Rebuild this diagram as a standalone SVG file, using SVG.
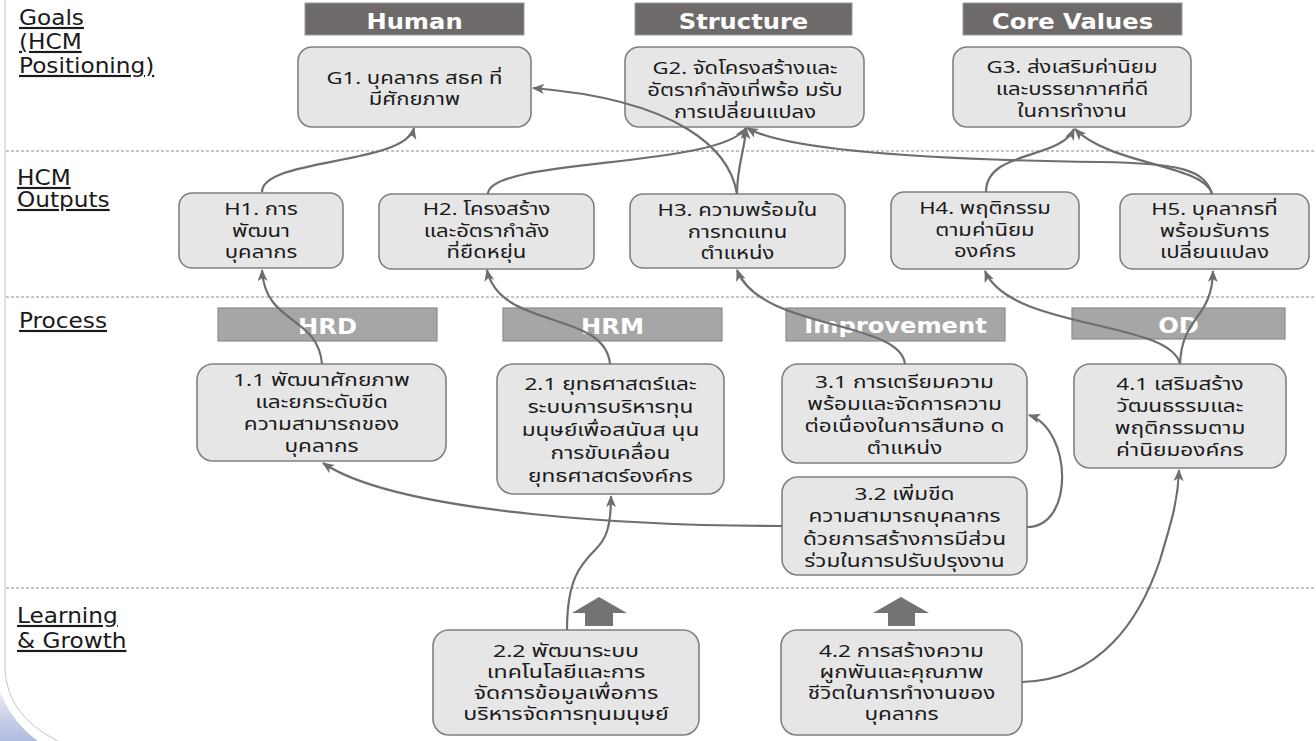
<svg xmlns="http://www.w3.org/2000/svg" width="1316" height="741" viewBox="0 0 1316 741">
<style>
.box{fill:#e6e6e6;stroke:#808080;stroke-width:1.6}
.hdr{fill:#6e6a6a;stroke:#9a9a9a;stroke-width:1}
.bar{fill:#a6a6a6;stroke:#8c8c8c;stroke-width:1.2}
.ht{font-family:"DejaVu Sans",Verdana,sans-serif;font-weight:bold;font-size:22px;fill:#ffffff;text-anchor:middle}
.t{font-family:"Noto Sans Thai","DejaVu Sans",Tahoma,sans-serif;font-size:17px;fill:#1a1a1a;text-anchor:middle}
.lbl{font-family:"DejaVu Sans",Verdana,sans-serif;font-size:21.5px;fill:#1a1a1a;text-decoration:underline}
.dash{stroke:#8a8a8a;stroke-width:1;stroke-dasharray:3 2;fill:none}
.c{fill:none;stroke:#6e6e6e;stroke-width:2.2;marker-end:url(#ah)}
.big{fill:#737373}
</style>
<defs>
<marker id="ah" markerUnits="userSpaceOnUse" markerWidth="14" markerHeight="12" refX="11" refY="5" orient="auto">
<path d="M0,0 L12,5 L0,10 L3,5 Z" fill="#6e6e6e"/>
</marker>
<linearGradient id="corner" x1="0" y1="0" x2="0" y2="1">
<stop offset="0" stop-color="#e8e8ee"/>
<stop offset="1" stop-color="#aebbe2"/>
</linearGradient>
</defs>
<rect width="1316" height="741" fill="#ffffff"/>
<g id="frame">
<path d="M0,692 C10,716 24,731 38,741 L0,741 Z" fill="url(#corner)"/>
<path d="M5,0 L5,668 C6,700 24,724 58,741" fill="none" stroke="#c4c4c4" stroke-width="1"/>
<line class="dash" x1="6" y1="151" x2="1316" y2="151"/>
<line class="dash" x1="6" y1="297" x2="1316" y2="297"/>
<line class="dash" x1="6" y1="588" x2="1316" y2="588"/>
</g>
<g id="row-labels">
<g transform="translate(19,0) scale(1.08,1)"><text class="lbl"><tspan x="0" y="25">Goals</tspan><tspan x="0" y="49">(HCM</tspan><tspan x="0" y="73">Positioning)</tspan></text></g>
<g transform="translate(17,0) scale(1.08,1)"><text class="lbl"><tspan x="0" y="185">HCM</tspan><tspan x="0" y="207">Outputs</tspan></text></g>
<g transform="translate(19,0) scale(1.08,1)"><text class="lbl" x="0" y="328">Process</text></g>
<g transform="translate(17,0) scale(1.08,1)"><text class="lbl"><tspan x="0" y="623">Learning</tspan><tspan x="0" y="648">&amp; Growth</tspan></text></g>
</g>
<g id="hdr-human"><rect class="hdr" x="305" y="3" width="219" height="32"/><text class="ht" transform="translate(414.5,0) scale(1.1,1)" x="0" y="29">Human</text></g>
<g id="hdr-structure"><rect class="hdr" x="635" y="3" width="217" height="32"/><text class="ht" transform="translate(743.5,0) scale(1.1,1)" x="0" y="29">Structure</text></g>
<g id="hdr-core"><rect class="hdr" x="963" y="3" width="219" height="32"/><text class="ht" transform="translate(1072.5,0) scale(1.1,1)" x="0" y="29">Core Values</text></g>
<g id="G1"><rect class="box" x="298" y="47" width="233" height="80" rx="14"/>
<g transform="translate(414.5,0) scale(1.3,1)"><text class="t"><tspan x="0" y="84">G1. บุคลากร สธค ที่</tspan><tspan x="0" y="105">มีศักยภาพ</tspan></text></g></g>
<g id="G2"><rect class="box" x="625" y="47" width="239" height="80" rx="14"/>
<g transform="translate(745,0) scale(1.3,1)"><text class="t"><tspan x="0" y="74">G2. จัดโครงสร้างและ</tspan><tspan x="0" y="96">อัตรากำลังเที่พร้อ มรับ</tspan><tspan x="0" y="118">การเปลี่ยนแปลง</tspan></text></g></g>
<g id="G3"><rect class="box" x="953" y="47" width="238" height="80" rx="14"/>
<g transform="translate(1072,0) scale(1.3,1)"><text class="t"><tspan x="0" y="73">G3. ส่งเสริมค่านิยม</tspan><tspan x="0" y="95">และบรรยากาศที่ดี</tspan><tspan x="0" y="117">ในการทำงาน</tspan></text></g></g>
<g id="H1"><rect class="box" x="179" y="193" width="164" height="75" rx="13"/>
<g transform="translate(261,0) scale(1.3,1)"><text class="t"><tspan x="0" y="215">H1. การ</tspan><tspan x="0" y="237">พัฒนา</tspan><tspan x="0" y="258">บุคลากร</tspan></text></g></g>
<g id="H2"><rect class="box" x="379" y="194" width="215" height="75" rx="13"/>
<g transform="translate(486.5,0) scale(1.3,1)"><text class="t"><tspan x="0" y="215">H2. โครงสร้าง</tspan><tspan x="0" y="237">และอัตรากำลัง</tspan><tspan x="0" y="258">ที่ยืดหยุ่น</tspan></text></g></g>
<g id="H3"><rect class="box" x="630" y="194" width="215" height="74" rx="13"/>
<g transform="translate(737.5,0) scale(1.3,1)"><text class="t"><tspan x="0" y="216">H3. ความพร้อมใน</tspan><tspan x="0" y="238">การทดแทน</tspan><tspan x="0" y="259">ตำแหน่ง</tspan></text></g></g>
<g id="H4"><rect class="box" x="891" y="192" width="188" height="77" rx="13"/>
<g transform="translate(985,0) scale(1.3,1)"><text class="t"><tspan x="0" y="214">H4. พฤติกรรม</tspan><tspan x="0" y="236">ตามค่านิยม</tspan><tspan x="0" y="257">องค์กร</tspan></text></g></g>
<g id="H5"><rect class="box" x="1120" y="194" width="189" height="75" rx="13"/>
<g transform="translate(1214.5,0) scale(1.3,1)"><text class="t"><tspan x="0" y="215">H5. บุคลากรที่</tspan><tspan x="0" y="237">พร้อมรับการ</tspan><tspan x="0" y="258">เปลี่ยนแปลง</tspan></text></g></g>
<g id="bar-hrd"><rect class="bar" x="218" y="308" width="219" height="33"/><text class="ht" transform="translate(327.5,0) scale(1.1,1)" x="0" y="334">HRD</text></g>
<g id="bar-hrm"><rect class="bar" x="503" y="308" width="219" height="33"/><text class="ht" transform="translate(612.5,0) scale(1.1,1)" x="0" y="334">HRM</text></g>
<g id="bar-imp"><rect class="bar" x="786" y="308" width="219" height="33"/><text class="ht" transform="translate(895.5,0) scale(1.1,1)" x="0" y="333">Improvement</text></g>
<g id="bar-od"><rect class="bar" x="1072" y="308" width="213" height="31"/><text class="ht" transform="translate(1178.5,0) scale(1.1,1)" x="0" y="333">OD</text></g>
<g id="P11"><rect class="box" x="197" y="364" width="249" height="97" rx="16"/>
<g transform="translate(321.5,0) scale(1.33,1)"><text class="t"><tspan x="0" y="386">1.1 พัฒนาศักยภาพ</tspan><tspan x="0" y="408">และยกระดับขีด</tspan><tspan x="0" y="430">ความสามารถของ</tspan><tspan x="0" y="452">บุคลากร</tspan></text></g></g>
<g id="P21"><rect class="box" x="497" y="364" width="227" height="130" rx="16"/>
<g transform="translate(610.5,0) scale(1.33,1)"><text class="t"><tspan x="0" y="390">2.1 ยุทธศาสตร์และ</tspan><tspan x="0" y="413">ระบบการบริหารทุน</tspan><tspan x="0" y="436">มนุษย์เพื่อสนับส นุน</tspan><tspan x="0" y="459">การขับเคลื่อน</tspan><tspan x="0" y="482">ยุทธศาสตร์องค์กร</tspan></text></g></g>
<g id="P31"><rect class="box" x="782" y="364" width="245" height="99" rx="16"/>
<g transform="translate(904.5,0) scale(1.33,1)"><text class="t"><tspan x="0" y="388">3.1 การเตรียมความ</tspan><tspan x="0" y="410">พร้อมและจัดการความ</tspan><tspan x="0" y="432">ต่อเนื่องในการสืบทอ ด</tspan><tspan x="0" y="454">ตำแหน่ง</tspan></text></g></g>
<g id="P32"><rect class="box" x="782" y="477" width="245" height="98" rx="16"/>
<g transform="translate(904.5,0) scale(1.33,1)"><text class="t"><tspan x="0" y="500">3.2 เพิ่มขีด</tspan><tspan x="0" y="522">ความสามารถบุคลากร</tspan><tspan x="0" y="545">ด้วยการสร้างการมีส่วน</tspan><tspan x="0" y="567">ร่วมในการปรับปรุงงาน</tspan></text></g></g>
<g id="P41"><rect class="box" x="1074" y="364" width="212" height="104" rx="16"/>
<g transform="translate(1180,0) scale(1.33,1)"><text class="t"><tspan x="0" y="390">4.1 เสริมสร้าง</tspan><tspan x="0" y="412">วัฒนธรรมและ</tspan><tspan x="0" y="434">พฤติกรรมตาม</tspan><tspan x="0" y="456">ค่านิยมองค์กร</tspan></text></g></g>
<g id="L22"><rect class="box" x="433" y="630" width="266" height="105" rx="16"/>
<g transform="translate(566,0) scale(1.36,1)"><text class="t"><tspan x="0" y="657">2.2 พัฒนาระบบ</tspan><tspan x="0" y="678">เทคโนโลยีและการ</tspan><tspan x="0" y="699">จัดการข้อมูลเพื่อการ</tspan><tspan x="0" y="720">บริหารจัดการทุนมนุษย์</tspan></text></g></g>
<g id="L42"><rect class="box" x="781" y="630" width="241" height="105" rx="16"/>
<g transform="translate(901.5,0) scale(1.33,1)"><text class="t"><tspan x="0" y="657">4.2 การสร้างความ</tspan><tspan x="0" y="678">ผูกพันและคุณภาพ</tspan><tspan x="0" y="699">ชีวิตในการทำงานของ</tspan><tspan x="0" y="720">บุคลากร</tspan></text></g></g>
<g id="big-arrows">
<path class="big" d="M599,597 L627,613 L613,613 L613,626 L585,626 L585,613 L572,613 Z"/>
<path class="big" d="M901,597 L929,613 L915,613 L915,626 L888,626 L888,613 L873,613 Z"/>
</g>
<g id="connectors">
<path class="c" d="M262,192 C262,158 405,165 414,128"/>
<path class="c" d="M488,194 C488,158 720,168 746,128"/>
<path class="c" d="M737,194 C737,165 745,150 746,128"/>
<path class="c" d="M737,194 C730,150 680,100 533,88"/>
<path class="c" d="M1212,194 C1205,170 1180,163 1100,162 C950,160 790,152 747,128"/>
<path class="c" d="M1212,194 C1205,165 1110,165 1075,129"/>
<path class="c" d="M986,192 C986,150 1060,160 1074,129"/>
<path class="c" d="M322,364 C318,315 265,325 262,270"/>
<path class="c" d="M610,364 C605,310 500,330 487,270"/>
<path class="c" d="M905,364 C900,320 760,330 737,270"/>
<path class="c" d="M1180,364 C1170,320 1010,330 985,271"/>
<path class="c" d="M1180,364 C1182,315 1212,320 1213,271"/>
<path class="c" d="M782,526 C650,526 400,515 323,463"/>
<path class="c" d="M1027,527 C1075,527 1072,430 1029,415"/>
<path class="c" d="M567,630 C567,580 580,565 595,550 C605,540 611,530 611,496"/>
<path class="c" d="M1022,682 C1100,680 1140,620 1160,560 C1172,520 1178,500 1179,470"/>
</g>
</svg>
